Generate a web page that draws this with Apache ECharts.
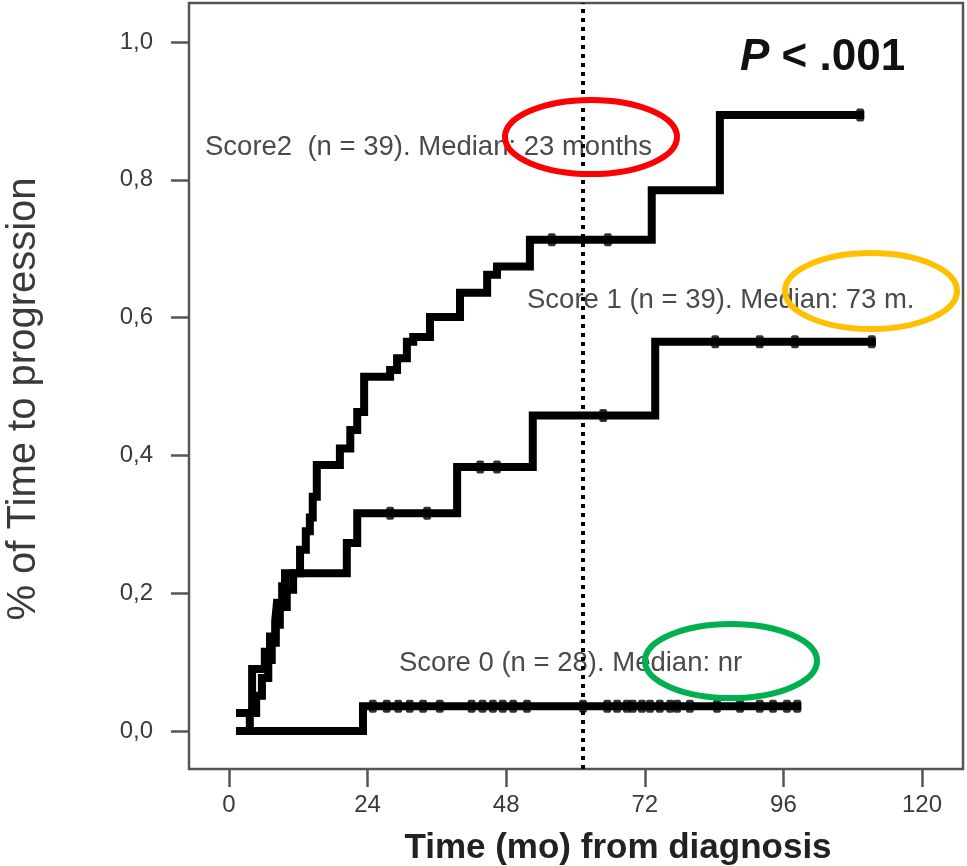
<!DOCTYPE html>
<html>
<head>
<meta charset="utf-8">
<script src="https://cdn.jsdelivr.net/npm/echarts@6/dist/echarts.min.js"></script>
<style>
html, body { margin: 0; padding: 0; background: #fff; }
#chart { width: 967px; height: 866px; }
</style>
</head>
<body>
<div id="chart"></div>
<script>
var xTicks = [0, 24, 48, 72, 96, 120];
var yTicks = [0, 0.2, 0.4, 0.6, 0.8, 1.0];

// step curves: [month, cumulative proportion progressed]
var score2 = [[1.9, 0.026], [4.0, 0.09], [6.2, 0.115], [7.1, 0.137], [8.0, 0.16], [8.3, 0.186],
    [9.2, 0.21], [9.7, 0.229], [12.3, 0.263], [13.3, 0.29], [14.0, 0.31], [14.5, 0.34],
    [15.2, 0.386], [19.2, 0.41], [21.0, 0.437], [22.2, 0.463], [23.4, 0.514], [27.9, 0.524],
    [29.1, 0.541], [30.8, 0.565], [31.9, 0.572], [34.8, 0.601], [40.0, 0.636], [44.7, 0.662],
    [46.4, 0.674], [52.1, 0.713], [73.2, 0.785], [85.0, 0.894], [109.3, 0.894]];
var score1 = [[1.9, 0], [3.6, 0.026], [4.7, 0.051], [5.7, 0.077], [6.8, 0.103], [7.4, 0.128],
    [8.1, 0.154], [8.8, 0.18], [10.0, 0.205], [11.1, 0.229], [20.4, 0.273], [22.2, 0.316],
    [39.5, 0.383], [52.6, 0.458], [73.8, 0.565], [111.3, 0.565]];
var score0 = [[1.9, 0], [23.2, 0.036], [98.4, 0.036]];

// censored times (months)
var cens2 = [55.9, 65.6, 109.3];
var cens1 = [27.9, 34.3, 43.5, 46.4, 64.8, 84.2, 91.9, 98.0, 111.3];
var cens0 = [24.9, 27.3, 29.3, 31.3, 33.6, 36.5, 42.0, 43.9, 45.7, 47.4, 49.2, 51.6, 61.3, 65.5,
    67.2, 68.9, 69.9, 71.5, 72.9, 74.6, 76.4, 77.6, 79.8, 84.5, 88.5, 91.9, 94.2, 96.6, 98.4];

var cutoff = 61.3;

var labels = ["Score2  (n = 39). Median: 23 months",
    "Score 1 (n = 39). Median: 73 m.",
    "Score 0 (n = 28). Median: nr"];

function stepValue(curve, t) {
    var v = curve[0][1];
    for (var i = 0; i < curve.length; i++) {
        if (curve[i][0] <= t + 1e-9) v = curve[i][1];
    }
    return v;
}

function censPoints(curve, times) {
    return times.map(function (t) { return [t, stepValue(curve, t)]; });
}

function stepSeries(data) {
    return {
        type: 'line', step: 'end', data: data, symbol: 'none', z: 3,
        lineStyle: { color: '#000', width: 8, cap: 'square', join: 'miter' }
    };
}

function censSeries(data) {
    return {
        type: 'scatter', data: data, symbol: 'roundRect', symbolSize: [8, 13], z: 4,
        itemStyle: { color: '#000' }
    };
}

var myChart = echarts.init(document.getElementById('chart'));
var font = '"Liberation Sans", Arial, Helvetica, sans-serif';

var lineSeries = stepSeries(score2);
lineSeries.markLine = {
    silent: true, symbol: 'none', label: { show: false },
    lineStyle: { color: '#000', width: 4, type: [4, 5] },
    data: [{ xAxis: cutoff }]
};

var option = {
    animation: false,
    grid: {
        left: 189, right: 4, top: 3, bottom: 97,
        show: true, borderColor: '#555', borderWidth: 2.5, backgroundColor: '#fff'
    },
    xAxis: {
        type: 'value', min: -6.93, max: 127.1,
        axisLine: { show: false, onZero: false },
        splitLine: { show: false },
        axisTick: { show: true, customValues: xTicks, length: 18, lineStyle: { color: '#555', width: 2.5 } },
        axisLabel: { customValues: xTicks, margin: 24, fontSize: 24, color: '#3a3a3a', fontFamily: font }
    },
    yAxis: {
        type: 'value', min: -0.0552, max: 1.0566,
        axisLine: { show: false, onZero: false },
        splitLine: { show: false },
        axisTick: { show: true, customValues: yTicks, length: 18, lineStyle: { color: '#555', width: 2.5 } },
        axisLabel: {
            customValues: yTicks, margin: 36, fontSize: 24, color: '#3a3a3a', fontFamily: font,
            formatter: function (v) { return v.toFixed(1).replace('.', ','); }
        }
    },
    series: [
        lineSeries,
        stepSeries(score1),
        stepSeries(score0),
        censSeries(censPoints(score2, cens2)),
        censSeries(censPoints(score1, cens1)),
        censSeries(censPoints(score0, cens0))
    ],
    graphic: [
        { type: 'text', x: 24, y: 399, rotation: Math.PI / 2, z: 1,
          style: { text: '% of Time to progression', font: '40px ' + font, fill: '#3a3a3a',
                   textAlign: 'center', textVerticalAlign: 'middle' } },
        { type: 'text', x: 618, y: 848, z: 1,
          style: { text: 'Time (mo) from diagnosis', font: 'bold 35px ' + font, fill: '#222',
                   textAlign: 'center', textVerticalAlign: 'middle' } },
        { type: 'text', x: 205, y: 147, z: 1,
          style: { text: labels[0], font: '27.5px ' + font, fill: '#4a4a4a',
                   textAlign: 'left', textVerticalAlign: 'middle' } },
        { type: 'text', x: 527, y: 300, z: 1,
          style: { text: labels[1], font: '27.5px ' + font, fill: '#4a4a4a',
                   textAlign: 'left', textVerticalAlign: 'middle' } },
        { type: 'text', x: 399, y: 663, z: 1,
          style: { text: labels[2], font: '27.5px ' + font, fill: '#4a4a4a',
                   textAlign: 'left', textVerticalAlign: 'middle' } },
        { type: 'text', x: 740, y: 58, z: 10,
          style: { text: '{p|P} < .001', font: 'bold 44px ' + font, fill: '#111',
                   textAlign: 'left', textVerticalAlign: 'middle',
                   rich: { p: { fontStyle: 'italic', fontWeight: 'bold', fontSize: 44, fontFamily: font, fill: '#111' } } } },
        { type: 'ellipse', z: 10, shape: { cx: 591, cy: 137, rx: 86, ry: 37 },
          style: { fill: 'none', stroke: '#ff0000', lineWidth: 6 } },
        { type: 'ellipse', z: 10, shape: { cx: 871, cy: 291, rx: 86, ry: 38 },
          style: { fill: 'none', stroke: '#ffc000', lineWidth: 6 } },
        { type: 'ellipse', z: 10, shape: { cx: 731, cy: 661, rx: 86, ry: 37 },
          style: { fill: 'none', stroke: '#00b050', lineWidth: 6 } }
    ]
};

myChart.setOption(option);
</script>
</body>
</html>
